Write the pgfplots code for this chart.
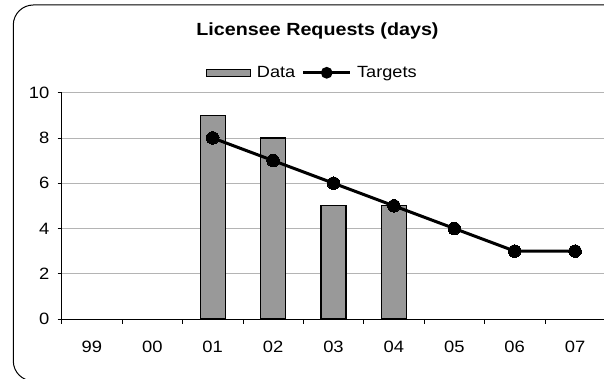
\documentclass[border=0pt]{standalone}
\usepackage{fontspec}
\setmainfont{Liberation Sans}[FakeStretch=1.12]
\usepackage{pgfplots}
\pgfplotsset{compat=1.18}
\definecolor{barGray}{HTML}{999999}
\definecolor{gridGray}{HTML}{B4B4B4}
\begin{document}
\begin{tikzpicture}
\useasboundingbox (0pt,0pt) rectangle (604pt,379pt);
\draw[line width=1pt, rounded corners=20pt] (13.3pt,-2pt) rectangle (660pt,374pt);
\node[anchor=base, font=\fontsize{17.6}{20}\selectfont\bfseries] at (317.5pt,343.3pt) {Licensee Requests (days)};
\begin{axis}[
  at={(61.7pt,60pt)}, anchor=south west,
  scale only axis, width=543.6pt, height=226.3pt,
  xmin=-0.5, xmax=8.5, ymin=0, ymax=10,
  axis x line*=bottom, axis y line*=left,
  axis line style={black, line width=0.8pt},
  ytick={0,2,...,10},
  ymajorgrids, grid style={gridGray, line width=0.8pt},
  xtick={0,...,8},
  xticklabels={\mbox{99},\mbox{00},\mbox{01},\mbox{02},\mbox{03},\mbox{04},\mbox{05},\mbox{06},\mbox{07}},
  minor xtick={-0.5,0.5,...,8.5},
  major x tick style={draw=none},
  minor x tick style={black, line width=0.8pt},
  major y tick style={black, line width=0.8pt},
  tick align=outside, major tick length=4pt, minor tick length=5pt,
  /pgf/number format/assume math mode=true,
  tick label style={font=\fontsize{16.4}{18}\selectfont},
  xticklabel style={anchor=base, yshift=-30pt, inner sep=0pt},
  yticklabel style={anchor=east, inner sep=0pt, xshift=-8.2pt},
  legend columns=2,
  legend style={at={(rel axis cs:0.461,1.088)}, anchor=center, draw=none, fill=none,
    font=\fontsize{16.2}{18}\selectfont, nodes={inner sep=1.5pt},
    /tikz/every odd column/.append style={column sep=4pt},
    /tikz/every even column/.append style={column sep=5pt}},
]
\addplot[ybar, bar width=25pt, fill=barGray, draw=black, line width=1.1pt,
  legend image code/.code={\draw[fill=barGray, draw=black, line width=1pt] (0pt,-3.5pt) rectangle (44pt,3.5pt);}]
  coordinates {(2,9) (3,8) (4,5) (5,5)};
\addlegendentry{Data}
\addplot[black, line width=3pt, mark=*, mark size=6.3pt, mark options={fill=black, solid, line width=0pt},
  legend image code/.code={\draw[black, line width=2.8pt] (0pt,0pt) -- (47pt,0pt); \fill[black] (23.5pt,0pt) circle (4.3pt);}]
  coordinates {(2,8) (3,7) (4,6) (5,5) (6,4) (7,3) (8,3)};
\addlegendentry{Targets}
\end{axis}
\end{tikzpicture}
\end{document}
